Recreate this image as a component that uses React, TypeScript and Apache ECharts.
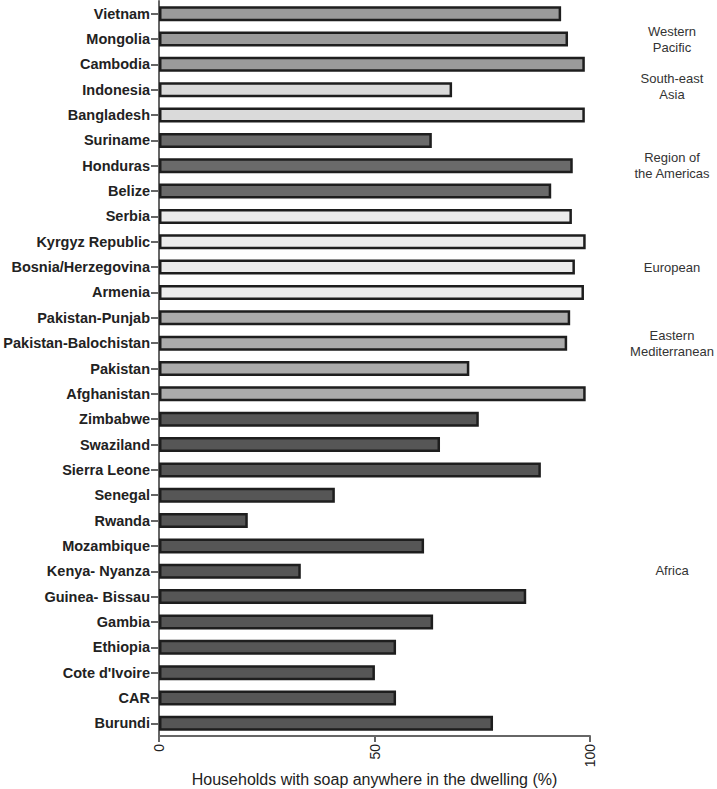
import React, { useEffect, useRef } from "react";
import * as echarts from "echarts";

const categories = [
  "Vietnam", "Mongolia", "Cambodia", "Indonesia", "Bangladesh", "Suriname", "Honduras", "Belize",
  "Serbia", "Kyrgyz Republic", "Bosnia/Herzegovina", "Armenia", "Pakistan-Punjab", "Pakistan-Balochistan",
  "Pakistan", "Afghanistan", "Zimbabwe", "Swaziland", "Sierra Leone", "Senegal", "Rwanda", "Mozambique",
  "Kenya- Nyanza", "Guinea- Bissau", "Gambia", "Ethiopia", "Cote d'Ivoire", "CAR", "Burundi",
];
const values = [
  93.3, 94.9, 98.8, 68, 98.8, 63.3, 96, 91,
  95.8, 99, 96.5, 98.6, 95.4, 94.7,
  72, 99, 74.2, 65.2, 88.6, 40.8, 20.6, 61.5,
  32.9, 85.2, 63.6, 55, 50.1, 55, 77.5,
];
const regions = [
  "WP", "WP", "WP", "SEA", "SEA", "AM", "AM", "AM",
  "EU", "EU", "EU", "EU", "EM", "EM",
  "EM", "EM", "AF", "AF", "AF", "AF", "AF", "AF",
  "AF", "AF", "AF", "AF", "AF", "AF", "AF",
];
const regionColors: Record<string, string> = {
  WP: "#9a9a9a", SEA: "#dadada", AM: "#6a6a6a", EU: "#ececec", EM: "#ababab", AF: "#565656",
};
const regionLabels = [
  { text: "Western\nPacific", y: 39 },
  { text: "South-east\nAsia", y: 86 },
  { text: "Region of\nthe Americas", y: 165 },
  { text: "European", y: 267 },
  { text: "Eastern\nMediterranean", y: 343 },
  { text: "Africa", y: 570 },
];
const xTicks = { min: 0, max: 100, interval: 50 };
const xTitle = "Households with soap anywhere in the dwelling (%)";

export default function App() {
  const ref = useRef<HTMLDivElement>(null);
  useEffect(() => {
    const chart = echarts.init(ref.current!, undefined, { renderer: "svg" });
    chart.setOption({
      animation: false,
      grid: { left: 159, right: 127, top: 1, height: 735, containLabel: false, outerBoundsMode: "none" },
      xAxis: {
        type: "value",
        min: xTicks.min,
        max: xTicks.max,
        interval: xTicks.interval,
        name: xTitle,
        nameLocation: "middle",
        nameGap: 35,
        nameMoveOverlap: false,
        nameTextStyle: { fontFamily: "Liberation Sans", fontSize: 16, color: "#222" },
        axisLine: { show: true, lineStyle: { color: "#666", width: 2 } },
        axisTick: { show: true, length: 6, lineStyle: { color: "#666", width: 2 } },
        axisLabel: { rotate: 90, margin: 8, fontFamily: "Liberation Sans", fontSize: 14, color: "#222" },
        splitLine: { show: false },
      },
      yAxis: {
        type: "category",
        data: categories,
        inverse: true,
        axisLine: { show: true, lineStyle: { color: "#666", width: 2 } },
        axisTick: { show: true, alignWithLabel: true, length: 8, lineStyle: { color: "#666", width: 2 } },
        axisLabel: { margin: 9, fontFamily: "Liberation Sans", fontWeight: "bold", fontSize: 14.5, color: "#222" },
      },
      series: [
        {
          type: "bar",
          barWidth: 15,
          data: values.map((v, i) => ({
            value: v,
            itemStyle: { color: regionColors[regions[i]], borderColor: "#1e1e1e", borderWidth: 2.5 },
          })),
        },
      ],
      graphic: regionLabels.map((r) => ({
        type: "text",
        x: 672,
        y: r.y,
        style: {
          text: r.text,
          fontFamily: "Liberation Sans",
          fontSize: 13,
          fill: "#333",
          align: "center",
          verticalAlign: "middle",
          lineHeight: 16,
        },
      })),
    });
    return () => chart.dispose();
  }, []);
  return <div ref={ref} style={{ width: 717, height: 789, position: "absolute", left: 0, top: 0 }} />;
}
